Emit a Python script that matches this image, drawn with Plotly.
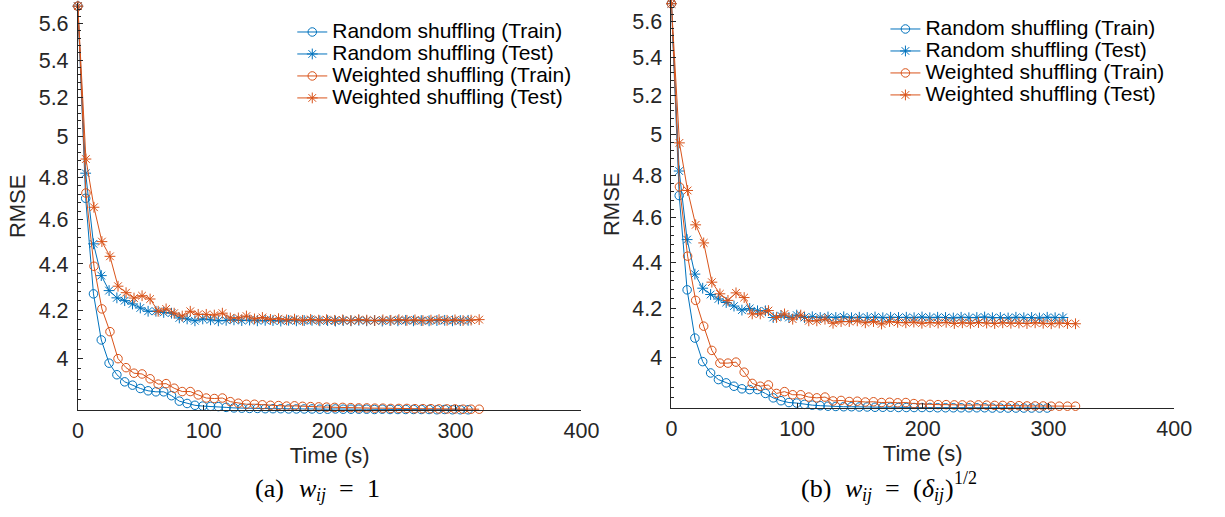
import math
import plotly.graph_objects as go

# ---------------- data ----------------
# (a) w_ij = 1
t_a_rand = [0, 6.2, 12.4, 18.6, 24.8, 31.0, 37.2, 43.4, 49.6, 55.8,
            62.0, 68.2, 74.4, 80.6, 86.8, 93.0, 99.2, 105.4, 111.6, 117.8,
            124.0, 130.2, 136.4, 142.6, 148.8, 155.0, 161.2, 167.4, 173.6, 179.8,
            186.0, 192.2, 198.4, 204.6, 210.8, 217.0, 223.2, 229.4, 235.6, 241.8,
            248.0, 254.2, 260.4, 266.6, 272.8, 279.0, 285.2, 291.4, 297.6, 303.8,
            310.0]
t_a_wgt = [0, 6.4, 12.8, 19.1, 25.5, 31.9, 38.3, 44.6, 51.0, 57.4,
           63.8, 70.1, 76.5, 82.9, 89.3, 95.6, 102.0, 108.4, 114.8, 121.1,
           127.5, 133.9, 140.3, 146.6, 153.0, 159.4, 165.8, 172.1, 178.5, 184.9,
           191.3, 197.6, 204.0, 210.4, 216.8, 223.1, 229.5, 235.9, 242.3, 248.6,
           255.0, 261.4, 267.8, 274.1, 280.5, 286.9, 293.3, 299.6, 306.0, 312.4,
           318.8]
a_rand_train = [5.70, 4.70, 4.27, 4.077, 3.983, 3.937, 3.909, 3.896, 3.883, 3.874,
                3.870, 3.870, 3.855, 3.834, 3.825, 3.818, 3.815, 3.814, 3.813, 3.810,
                3.808, 3.807, 3.806, 3.806, 3.805, 3.805, 3.805, 3.804, 3.804, 3.804,
                3.804, 3.803, 3.803, 3.804, 3.803, 3.803, 3.803, 3.803, 3.802, 3.803,
                3.802, 3.802, 3.802, 3.802, 3.802, 3.802, 3.801, 3.802, 3.801, 3.801,
                3.801]
a_rand_test = [5.70, 4.82, 4.49, 4.349, 4.284, 4.253, 4.241, 4.227, 4.210, 4.196,
               4.196, 4.191, 4.188, 4.168, 4.164, 4.156, 4.164, 4.160, 4.156, 4.158,
               4.160, 4.157, 4.159, 4.156, 4.158, 4.157, 4.155, 4.158, 4.156, 4.157,
               4.158, 4.156, 4.157, 4.155, 4.157, 4.156, 4.158, 4.156, 4.157, 4.155,
               4.157, 4.156, 4.158, 4.156, 4.157, 4.156, 4.157, 4.158, 4.156, 4.157,
               4.158]
a_wgt_train = [5.70, 4.725, 4.39, 4.206, 4.111, 4.001, 3.965, 3.943, 3.940, 3.921,
               3.900, 3.902, 3.884, 3.871, 3.871, 3.858, 3.846, 3.844, 3.846, 3.832,
               3.826, 3.822, 3.822, 3.820, 3.818, 3.817, 3.815, 3.816, 3.814, 3.813,
               3.812, 3.811, 3.810, 3.810, 3.809, 3.808, 3.808, 3.807, 3.807, 3.806,
               3.806, 3.806, 3.805, 3.805, 3.805, 3.804, 3.804, 3.804, 3.803, 3.803,
               3.803]
a_wgt_test = [5.70, 4.889, 4.658, 4.500, 4.434, 4.303, 4.275, 4.252, 4.262, 4.248,
              4.196, 4.206, 4.188, 4.176, 4.196, 4.183, 4.183, 4.180, 4.188, 4.168,
              4.168, 4.176, 4.164, 4.170, 4.162, 4.165, 4.160, 4.163, 4.158, 4.162,
              4.159, 4.161, 4.158, 4.160, 4.157, 4.161, 4.159, 4.157, 4.160, 4.158,
              4.161, 4.158, 4.160, 4.157, 4.159, 4.161, 4.158, 4.160, 4.157, 4.159,
              4.161]

# (b) w_ij = (delta_ij)^(1/2)
t_b_rand = [0, 6.2, 12.5, 18.7, 24.9, 31.2, 37.4, 43.6, 49.8, 56.1,
            62.3, 68.5, 74.8, 81.0, 87.2, 93.5, 99.7, 105.9, 112.1, 118.4,
            124.6, 130.8, 137.1, 143.3, 149.5, 155.8, 162.0, 168.2, 174.4, 180.7,
            186.9, 193.1, 199.4, 205.6, 211.8, 218.1, 224.3, 230.5, 236.7, 243.0,
            249.2, 255.4, 261.7, 267.9, 274.1, 280.4, 286.6, 292.8, 299.0, 305.3,
            311.5]
t_b_wgt = [0, 6.4, 12.9, 19.3, 25.7, 32.2, 38.6, 45.0, 51.4, 57.9,
           64.3, 70.7, 77.2, 83.6, 90.0, 96.5, 102.9, 109.3, 115.7, 122.2,
           128.6, 135.0, 141.5, 147.9, 154.3, 160.8, 167.2, 173.6, 180.0, 186.5,
           192.9, 199.3, 205.8, 212.2, 218.6, 225.1, 231.5, 237.9, 244.3, 250.8,
           257.2, 263.6, 270.1, 276.5, 282.9, 289.4, 295.8, 302.2, 308.6, 315.1,
           321.5]
b_rand_train = [5.70, 4.703, 4.279, 4.077, 3.982, 3.937, 3.911, 3.898, 3.885, 3.875,
                3.872, 3.872, 3.857, 3.840, 3.829, 3.822, 3.820, 3.815, 3.812, 3.810,
                3.808, 3.807, 3.806, 3.806, 3.805, 3.805, 3.804, 3.804, 3.804, 3.803,
                3.803, 3.803, 3.803, 3.803, 3.802, 3.802, 3.802, 3.802, 3.802, 3.802,
                3.802, 3.801, 3.801, 3.801, 3.801, 3.801, 3.801, 3.801, 3.801, 3.800,
                3.800]
b_rand_test = [5.70, 4.82, 4.50, 4.347, 4.286, 4.259, 4.240, 4.225, 4.210, 4.193,
               4.200, 4.190, 4.190, 4.162, 4.170, 4.162, 4.172, 4.162, 4.165, 4.162,
               4.164, 4.162, 4.165, 4.161, 4.163, 4.162, 4.164, 4.161, 4.163, 4.162,
               4.163, 4.161, 4.164, 4.161, 4.163, 4.162, 4.160, 4.163, 4.161, 4.162,
               4.164, 4.161, 4.162, 4.160, 4.163, 4.161, 4.162, 4.160, 4.163, 4.161,
               4.162]
b_wgt_train = [5.70, 4.744, 4.426, 4.234, 4.126, 4.027, 3.976, 3.976, 3.980, 3.940,
               3.896, 3.885, 3.890, 3.857, 3.864, 3.852, 3.852, 3.843, 3.840, 3.843,
               3.828, 3.830, 3.826, 3.827, 3.824, 3.825, 3.822, 3.823, 3.821, 3.822,
               3.818, 3.816, 3.815, 3.814, 3.814, 3.813, 3.813, 3.812, 3.813, 3.812,
               3.811, 3.811, 3.810, 3.810, 3.809, 3.809, 3.809, 3.808, 3.808, 3.808,
               3.808]
b_wgt_test = [5.70, 4.958, 4.727, 4.567, 4.485, 4.312, 4.262, 4.234, 4.266, 4.246,
              4.177, 4.177, 4.191, 4.162, 4.177, 4.155, 4.172, 4.148, 4.148, 4.155,
              4.138, 4.145, 4.145, 4.148, 4.140, 4.145, 4.135, 4.145, 4.142, 4.140,
              4.143, 4.138, 4.141, 4.139, 4.142, 4.137, 4.140, 4.138, 4.141, 4.139,
              4.137, 4.140, 4.138, 4.139, 4.137, 4.140, 4.138, 4.136, 4.139, 4.137,
              4.136]

series_names = ["Random shuffling (Train)", "Random shuffling (Test)",
                "Weighted shuffling (Train)", "Weighted shuffling (Test)"]
y_tickvals = [4, 4.2, 4.4, 4.6, 4.8, 5, 5.2, 5.4, 5.6]
y_ticktext = ["4", "4.2", "4.4", "4.6", "4.8", "5", "5.2", "5.4", "5.6"]
x_tickvals = [0, 100, 200, 300, 400]

# ---------------- style ----------------
BLUE = "#0072BD"
ORANGE = "#D95319"
AX = "#262626"
FONT = "Liberation Sans, Arial, sans-serif"
SERIF = "Liberation Serif, DejaVu Serif, serif"
W, H = 1225, 517

fig = go.Figure()

panels = [
    ("x", "y", "legend", t_a_rand, t_a_wgt, a_rand_train, a_rand_test, a_wgt_train, a_wgt_test),
    ("x2", "y2", "legend2", t_b_rand, t_b_wgt, b_rand_train, b_rand_test, b_wgt_train, b_wgt_test),
]
for xa, ya, lg, tr, tw, rtr, rte, wtr, wte in panels:
    specs = [(tr, rtr, BLUE, "circle-open", 8.5),
             (tr, rte, BLUE, "asterisk-open", 9),
             (tw, wtr, ORANGE, "circle-open", 8.5),
             (tw, wte, ORANGE, "asterisk-open", 9)]
    for name, (xs, ys, col, sym, sz) in zip(series_names, specs):
        fig.add_trace(go.Scatter(
            x=xs, y=ys, mode="lines+markers",
            name='<span style="font-size:21px">' + name + '</span>',
            xaxis=xa, yaxis=ya, legend=lg, cliponaxis=False,
            line=dict(color=col, width=1),
            marker=dict(symbol=sym, size=sz, color=col, line=dict(color=col, width=1)),
        ))

minor_vals = [round(3.80 + 0.04 * k, 2) for k in range(49)]
minor_vals = [v for v in minor_vals if v <= 5.72 and round((v - 4.0) / 0.2, 6) % 1 != 0]

yrange = [math.log10(3.80), math.log10(5.72)]


def xax(domain, anchor):
    return dict(domain=domain, anchor=anchor, range=[0, 400], tickvals=x_tickvals,
                ticks="inside", ticklen=5, tickcolor=AX, tickwidth=1,
                showline=True, linecolor=AX, linewidth=1,
                showgrid=False, zeroline=False, tickfont=dict(family=FONT, size=21.5, color=AX),
                title=dict(text="Time (s)", font=dict(family=FONT, size=22, color=AX), standoff=2),
                ticklabelstandoff=1)


def yax(domain, anchor):
    return dict(domain=domain, anchor=anchor, type="log", range=yrange,
                tickvals=y_tickvals, ticktext=y_ticktext,
                ticks="inside", ticklen=5, tickcolor=AX, tickwidth=1, showline=True, linecolor=AX,
                linewidth=1, showgrid=False, zeroline=False,
                tickfont=dict(family=FONT, size=21.5, color=AX),
                minor=dict(tickmode="array", tickvals=minor_vals, ticks="inside", ticklen=3,
                           tickcolor=AX, tickwidth=1, showgrid=False),
                title=dict(text="RMSE", font=dict(family=FONT, size=22, color=AX), standoff=6),
                ticklabelstandoff=4)


# sub-figure captions, built from plain text pieces (math-like layout)
CAP_Y = 488          # px from top, centre of main text
MAIN, SCRIPT = 26, 18


def piece(text, px, dy=0, size=MAIN, italic=False):
    return dict(text=text, x=px / W, y=1 - (CAP_Y + dy) / H, xref="paper", yref="paper",
                showarrow=False, xanchor="left", yanchor="middle",
                font=dict(family=SERIF, size=size, color="#000000",
                          style="italic" if italic else "normal"))


A0 = 252
B0 = 809
captions = [
    piece("(a)", A0),
    piece("w", A0 + 45, italic=True),
    piece("ij", A0 + 62, dy=7, size=SCRIPT, italic=True),
    piece("=", A0 + 86),
    piece("1", A0 + 114),
    piece("(b)", B0),
    piece("w", B0 + 45, italic=True),
    piece("ij", B0 + 62, dy=7, size=SCRIPT, italic=True),
    piece("=", B0 + 86),
    piece("(", B0 + 114),
    piece("δ", B0 + 123, italic=True),
    piece("ij", B0 + 136, dy=7, size=SCRIPT, italic=True),
    piece(")", B0 + 147),
    piece("1/2", B0 + 156, dy=-10, size=SCRIPT),
]

fig.update_layout(
    width=W, height=H, margin=dict(l=0, r=0, t=0, b=0),
    paper_bgcolor="white", plot_bgcolor="white",
    xaxis=xax([73.3 / W, 586.9 / W], "y"),
    yaxis=yax([(H - 410) / H, (H - 2.7) / H], "x"),
    xaxis2=xax([678.7 / W, 1191.5 / W], "y2"),
    yaxis2=yax([(H - 408.3) / H, (H - 0.2) / H], "x2"),
    legend=dict(x=292 / W, y=1 - 16 / H, xanchor="left", yanchor="top",
                bgcolor="rgba(0,0,0,0)", borderwidth=0,
                font=dict(family=FONT, size=14.6, color="#000000")),
    legend2=dict(x=897 / W, y=1 - 13 / H, xanchor="left", yanchor="top",
                 bgcolor="rgba(0,0,0,0)", borderwidth=0,
                 font=dict(family=FONT, size=14.6, color="#000000")),
    showlegend=True,
    annotations=captions,
)

fig.write_html("out.html")
